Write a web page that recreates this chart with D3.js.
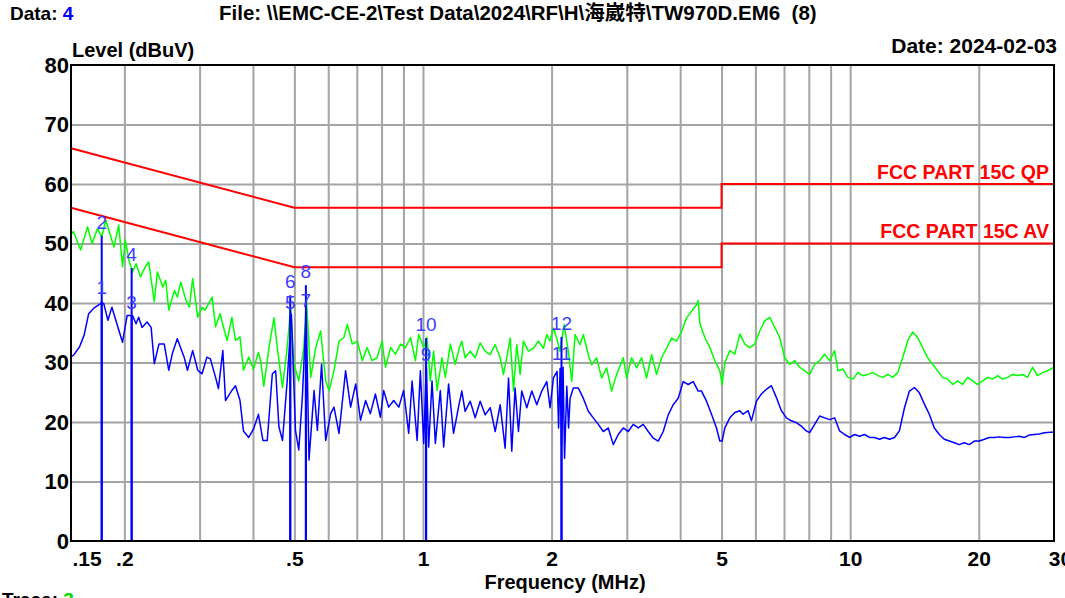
<!DOCTYPE html>
<html><head><meta charset="utf-8">
<script src="https://cdn.jsdelivr.net/npm/d3@7"></script>
<style>
html,body{margin:0;padding:0;background:#fff;overflow:hidden}
svg{display:block;font-family:"Liberation Sans",Arial,"Noto Sans CJK SC",sans-serif}
text{white-space:pre}
</style></head><body>
<svg id="c" width="1065" height="598"></svg>
<script>
// ---------- data ----------
const yTicks = [0, 10, 20, 30, 40, 50, 60, 70, 80];
const xTicks = [0.15, 0.2, 0.5, 1, 2, 5, 10, 20, 30];
const xTickLabels = [".15", ".2", ".5", "1", "2", "5", "10", "20", "30"];
const gridFreqs = [0.2, 0.3, 0.4, 0.5, 0.6, 0.7, 0.8, 0.9, 1, 2, 3, 4, 5, 6, 7, 8, 9, 10, 20];
const gridLevels = [10, 20, 30, 40, 50, 60, 70];

const qpLimit = [[0.15, 66], [0.5, 56], [5, 56], [5, 60], [30, 60]];
const avLimit = [[0.15, 56], [0.5, 46], [5, 46], [5, 50], [30, 50]];
const limitNames = ["FCC PART 15C QP", "FCC PART 15C AV"];

// Trace 3 (peak, green)
const trace3 = [[0.150,51.5],[0.152,52.0],[0.158,48.9],[0.164,52.8],[0.168,50.0],[0.173,52.5],[0.177,51.1],[0.181,53.9],[0.184,52.2],[0.189,49.4],[0.194,53.1],[0.198,46.1],[0.201,50.6],[0.205,47.2],[0.209,45.2],[0.213,46.6],[0.218,44.4],[0.224,46.1],[0.228,46.9],[0.235,40.2],[0.239,45.2],[0.246,42.7],[0.250,43.8],[0.254,38.8],[0.262,42.1],[0.266,41.0],[0.271,43.5],[0.279,40.4],[0.284,39.3],[0.289,44.1],[0.297,37.6],[0.304,39.3],[0.309,38.8],[0.321,41.0],[0.327,36.0],[0.335,38.2],[0.341,36.0],[0.348,33.7],[0.357,37.6],[0.364,33.7],[0.373,34.3],[0.380,28.7],[0.391,30.9],[0.401,28.9],[0.412,31.7],[0.417,30.3],[0.424,26.0],[0.436,32.5],[0.448,37.5],[0.456,32.5],[0.469,25.8],[0.481,32.5],[0.490,39.2],[0.499,29.7],[0.512,26.9],[0.526,32.5],[0.534,40.3],[0.546,27.5],[0.561,32.5],[0.576,35.3],[0.592,26.9],[0.603,25.3],[0.619,28.6],[0.636,33.6],[0.653,34.2],[0.665,36.4],[0.683,33.1],[0.702,33.6],[0.721,30.3],[0.740,32.5],[0.760,30.3],[0.781,30.8],[0.802,33.6],[0.817,29.2],[0.840,32.5],[0.862,31.4],[0.886,33.1],[0.910,32.5],[0.935,34.2],[0.960,30.3],[0.977,34.7],[1.004,32.5],[1.022,34.2],[1.040,26.9],[1.059,31.9],[1.079,25.3],[1.108,30.8],[1.128,27.5],[1.159,33.1],[1.190,29.7],[1.217,32.5],[1.233,33.6],[1.255,30.8],[1.290,31.9],[1.325,30.8],[1.361,33.3],[1.398,31.9],[1.436,31.3],[1.476,33.0],[1.516,30.8],[1.543,28.0],[1.571,30.8],[1.600,34.1],[1.629,25.2],[1.658,33.0],[1.688,28.0],[1.718,33.6],[1.765,31.9],[1.814,32.4],[1.863,33.6],[1.914,32.4],[1.949,34.7],[1.983,33.6],[2.020,35.8],[2.056,34.1],[2.093,31.9],[2.140,36.4],[2.189,31.9],[2.230,26.8],[2.270,34.7],[2.331,33.0],[2.373,34.7],[2.438,31.3],[2.482,29.6],[2.550,30.8],[2.619,27.4],[2.691,29.1],[2.764,25.2],[2.840,28.0],[2.944,30.8],[2.997,27.4],[3.078,30.8],[3.163,29.1],[3.248,30.8],[3.338,27.4],[3.429,31.3],[3.522,28.0],[3.618,30.8],[3.717,32.4],[3.818,34.1],[3.923,33.6],[4.030,35.2],[4.140,37.5],[4.253,38.6],[4.369,39.7],[4.408,40.4],[4.449,36.5],[4.569,34.2],[4.694,32.5],[4.822,30.3],[4.954,28.6],[5.015,26.3],[5.088,30.0],[5.227,32.0],[5.370,31.4],[5.516,34.8],[5.667,33.1],[5.821,32.5],[5.979,33.1],[6.142,35.3],[6.310,37.0],[6.482,37.6],[6.659,35.9],[6.840,34.2],[7.027,30.8],[7.218,29.7],[7.415,30.3],[7.617,29.2],[7.825,28.6],[8.038,28.0],[8.257,29.7],[8.482,30.3],[8.713,31.4],[8.951,30.3],[9.195,32.0],[9.36,28.6],[9.616,28.9],[9.878,27.5],[10.15,27.2],[10.42,28.3],[10.71,27.8],[11.00,28.0],[11.30,28.3],[11.61,27.8],[11.92,27.5],[12.25,28.0],[12.58,27.5],[12.92,28.3],[13.27,30.8],[13.64,33.7],[14.01,35.1],[14.39,34.2],[14.78,32.5],[15.18,30.8],[15.60,29.7],[16.02,28.6],[16.46,27.5],[16.91,27.2],[17.38,26.3],[17.85,26.9],[18.33,26.3],[18.83,27.5],[19.35,26.9],[19.88,26.3],[20.42,26.9],[20.98,27.5],[21.55,27.2],[22.14,27.8],[22.74,27.2],[23.36,27.5],[23.99,28.0],[24.65,27.8],[25.32,28.0],[26.01,27.5],[26.72,29.2],[27.45,27.8],[28.20,28.3],[28.97,28.6],[30.0,29.2]];

// Data 4 (average, blue)
const data4 = [[0.150,31.0],[0.152,31.2],[0.157,32.6],[0.161,34.6],[0.165,38.2],[0.170,39.2],[0.176,39.9],[0.179,39.9],[0.183,37.1],[0.187,39.3],[0.191,37.1],[0.198,33.4],[0.203,37.9],[0.209,37.9],[0.213,36.5],[0.216,37.6],[0.220,35.9],[0.226,36.8],[0.231,35.9],[0.235,29.8],[0.241,33.1],[0.248,33.1],[0.254,28.7],[0.259,31.5],[0.266,34.0],[0.276,30.9],[0.281,28.7],[0.289,32.0],[0.297,28.7],[0.304,28.1],[0.312,30.9],[0.318,30.6],[0.327,27.5],[0.332,25.6],[0.340,32.0],[0.345,23.6],[0.357,25.3],[0.364,26.1],[0.373,23.6],[0.380,18.5],[0.391,17.4],[0.401,18.8],[0.412,21.3],[0.422,16.9],[0.432,16.9],[0.444,28.1],[0.452,28.6],[0.460,19.2],[0.469,16.9],[0.481,26.9],[0.492,38.1],[0.503,18.6],[0.512,15.3],[0.522,24.2],[0.533,38.5],[0.541,13.6],[0.556,25.3],[0.566,18.6],[0.579,29.7],[0.592,16.9],[0.608,21.4],[0.619,22.5],[0.636,18.1],[0.659,28.6],[0.677,22.5],[0.696,26.4],[0.714,20.3],[0.734,23.6],[0.753,21.4],[0.774,24.7],[0.795,20.8],[0.809,25.3],[0.831,22.5],[0.854,23.6],[0.878,22.5],[0.901,25.3],[0.926,18.1],[0.943,26.9],[0.969,16.9],[0.986,28.6],[1.004,16.4],[1.018,29.5],[1.031,15.8],[1.050,26.9],[1.069,16.4],[1.098,25.3],[1.118,15.8],[1.148,26.4],[1.179,18.1],[1.211,22.5],[1.233,25.2],[1.255,21.8],[1.290,23.5],[1.325,20.7],[1.361,23.5],[1.398,21.2],[1.437,22.4],[1.476,18.4],[1.516,22.9],[1.557,15.6],[1.586,27.4],[1.614,15.1],[1.643,25.7],[1.673,18.4],[1.703,25.2],[1.750,22.4],[1.798,25.2],[1.847,22.9],[1.897,25.2],[1.949,26.8],[1.984,22.4],[2.020,27.4],[2.060,28.5],[2.077,19.0],[2.094,29.0],[2.111,16.0],[2.128,29.2],[2.145,13.9],[2.171,26.0],[2.192,19.0],[2.210,24.0],[2.249,25.7],[2.310,25.7],[2.373,24.0],[2.438,21.8],[2.504,20.7],[2.573,19.6],[2.643,18.4],[2.715,19.0],[2.789,16.2],[2.865,17.9],[2.944,19.0],[3.024,18.4],[3.106,19.6],[3.191,19.0],[3.278,19.6],[3.367,18.4],[3.459,17.3],[3.554,16.8],[3.651,18.4],[3.750,21.2],[3.852,22.9],[3.958,24.0],[4.066,26.8],[4.177,26.3],[4.291,26.8],[4.408,25.2],[4.488,25.2],[4.610,23.5],[4.736,21.3],[4.865,19.0],[4.953,16.8],[5.015,16.8],[5.088,19.0],[5.227,20.7],[5.370,21.6],[5.516,21.9],[5.615,21.3],[5.768,21.9],[5.873,20.2],[6.033,23.5],[6.197,24.7],[6.367,25.5],[6.540,26.1],[6.719,24.1],[6.902,21.9],[7.090,20.7],[7.283,20.2],[7.482,19.9],[7.686,19.3],[7.895,18.5],[8.038,18.2],[8.257,19.6],[8.482,21.0],[8.713,20.7],[8.951,20.4],[9.195,20.7],[9.446,18.5],[9.704,17.9],[9.968,17.4],[10.24,17.9],[10.52,17.6],[10.81,17.9],[11.10,17.4],[11.40,17.4],[11.71,17.1],[12.03,17.4],[12.36,17.1],[12.70,17.4],[13.04,18.5],[13.40,22.4],[13.76,25.2],[14.14,25.8],[14.52,24.9],[14.92,23.0],[15.32,21.3],[15.74,19.0],[16.17,17.9],[16.61,17.1],[17.07,16.8],[17.53,16.5],[18.01,16.2],[18.50,16.5],[19.01,16.2],[19.53,16.8],[20.06,16.8],[20.61,17.1],[21.17,17.4],[21.75,17.4],[22.34,17.5],[22.95,17.4],[23.57,17.4],[24.22,17.5],[24.87,17.6],[25.55,17.4],[26.25,17.8],[26.97,17.9],[27.70,18.0],[28.46,18.2],[30.0,18.3]];

// markers
const markerNo = [1, 2, 3, 4, 5, 6, 7, 8, 9, 10, 11, 12];
const markerFreq = [0.177, 0.177, 0.208, 0.208, 0.489, 0.489, 0.532, 0.532, 1.017, 1.017, 2.11, 2.11];
const markerLevel = [40.3, 51.3, 37.8, 45.9, 37.8, 41.3, 38.2, 43.0, 29.1, 34.1, 29.2, 34.3];

// ---------- chart ----------
const svg = d3.select("#c");
svg.append("rect").attr("width", 1065).attr("height", 598).attr("fill", "#fff");
const L = 71, R = 1054, T = 65, B = 541;
const x = d3.scaleLog().domain([0.15, 30]).range([L, R]);
const y = d3.scaleLinear().domain([0, 80]).range([B, T]);

// grid
const grid = svg.append("g");
grid.append("g").attr("transform", `translate(0,${B})`)
  .call(d3.axisBottom(x).tickValues(gridFreqs).tickSize(-(B - T)).tickFormat(""))
  .call(g => g.select(".domain").remove())
  .call(g => g.selectAll("line").attr("stroke", "#a4a4a4").attr("stroke-width", 2));
grid.append("g").attr("transform", `translate(${L},0)`)
  .call(d3.axisLeft(y).tickValues(gridLevels).tickSize(-(R - L)).tickFormat(""))
  .call(g => g.select(".domain").remove())
  .call(g => g.selectAll("line").attr("stroke", "#a4a4a4").attr("stroke-width", 2));

const line = d3.line().x(d => x(d[0])).y(d => y(d[1]));

// limits
[qpLimit, avLimit].forEach(lim => {
  svg.append("path").datum(lim).attr("d", line)
    .attr("fill", "none").attr("stroke", "#ff0000").attr("stroke-width", 2);
});
svg.append("text").attr("x", 1049).attr("y", y(qpLimit[4][1]) - 5).attr("text-anchor", "end")
  .attr("font-size", 19.5).attr("font-weight", "bold").attr("fill", "#ff0000").text(limitNames[0]);
svg.append("text").attr("x", 1049).attr("y", y(avLimit[4][1]) - 6).attr("text-anchor", "end")
  .attr("font-size", 19.5).attr("font-weight", "bold").attr("fill", "#ff0000").text(limitNames[1]);

// traces
svg.append("path").datum(trace3).attr("d", line)
  .attr("fill", "none").attr("stroke", "#00ff00").attr("stroke-width", 1.5).attr("stroke-linejoin", "round");
svg.append("path").datum(data4).attr("d", line)
  .attr("fill", "none").attr("stroke", "#0000ff").attr("stroke-width", 1.5).attr("stroke-linejoin", "round");

// markers
const mk = markerNo.map((n, i) => ({ n, f: markerFreq[i], v: markerLevel[i] }));
svg.append("g").selectAll("line").data(mk).join("line")
  .attr("x1", d => x(d.f)).attr("x2", d => x(d.f))
  .attr("y1", y(0)).attr("y2", d => y(d.v))
  .attr("stroke", "#0000ff").attr("stroke-width", 2);
svg.append("g").selectAll("text").data(mk).join("text")
  .attr("x", d => x(d.f)).attr("y", d => y(d.v) - 7)
  .attr("text-anchor", "middle").attr("font-size", 19).attr("fill", "#3c3cff")
  .text(d => d.n);

// frame
svg.append("rect").attr("x", L).attr("y", T).attr("width", R - L).attr("height", B - T)
  .attr("fill", "none").attr("stroke", "#000").attr("stroke-width", 2);

// axes labels
const ax = svg.append("g").attr("transform", `translate(0,${B})`)
  .call(d3.axisBottom(x).tickValues(xTicks).tickSize(0).tickPadding(10)
    .tickFormat((d, i) => xTickLabels[i]));
ax.select(".domain").remove();
ax.selectAll("text").attr("font-size", 21).attr("font-weight", "bold").attr("fill", "#000")
  .attr("font-family", "Liberation Sans, Arial, sans-serif")
  .attr("text-anchor", (d, i) => i === 0 ? "start" : "middle")
  .attr("dx", (d, i) => i === 0 ? 1 : (i === xTicks.length - 1 ? 6 : 0));
const ay = svg.append("g").attr("transform", `translate(${L - 2},0)`)
  .call(d3.axisLeft(y).tickValues(yTicks).tickSize(0).tickPadding(0));
ay.select(".domain").remove();
ay.selectAll("text").attr("font-size", 22).attr("font-weight", "bold").attr("fill", "#000")
  .attr("font-family", "Liberation Sans, Arial, sans-serif");

// texts
const bold = (sel) => sel.attr("font-weight", "bold").attr("fill", "#000");
const t1 = bold(svg.append("text").attr("x", 10).attr("y", 20).attr("font-size", 19));
t1.append("tspan").text("Data: ");
t1.append("tspan").attr("fill", "#0000ff").text("4");
bold(svg.append("text").attr("x", 219).attr("y", 20).attr("font-size", 20.5))
  .text("File: \\\\EMC-CE-2\\Test Data\\2024\\RF\\H\\海崴特\\TW970D.EM6  (8)");
bold(svg.append("text").attr("x", 72).attr("y", 57).attr("font-size", 20)).text("Level (dBuV)");
bold(svg.append("text").attr("x", 1057).attr("y", 53).attr("font-size", 21).attr("text-anchor", "end"))
  .text("Date: 2024-02-03");
bold(svg.append("text").attr("x", 565).attr("y", 589).attr("font-size", 20).attr("text-anchor", "middle"))
  .text("Frequency (MHz)");
const t2 = bold(svg.append("text").attr("x", 2).attr("y", 606).attr("font-size", 19));
t2.append("tspan").text("Trace: ");
t2.append("tspan").attr("fill", "#00dd00").text("3");
</script>
</body></html>
